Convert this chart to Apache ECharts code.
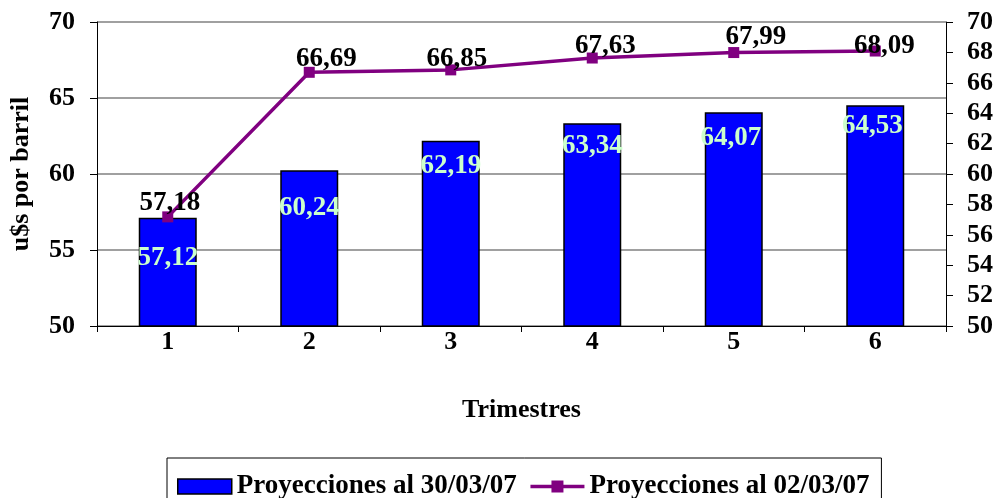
<!DOCTYPE html>
<html>
<head>
<meta charset="utf-8">
<script src="https://cdn.jsdelivr.net/npm/echarts@6/dist/echarts.min.js"></script>
<style>
  html, body { margin: 0; padding: 0; background: #ffffff; }
  #chart { width: 996px; height: 498px; }
</style>
</head>
<body>
<div id="chart"></div>
<script>
// Quarters and the two oil price projections (u$s per barrel)
const trimestres = ['1', '2', '3', '4', '5', '6'];
const proyecciones3003 = [57.12, 60.24, 62.19, 63.34, 64.07, 64.53];
const proyecciones0203 = [57.18, 66.69, 66.85, 67.63, 67.99, 68.09];

// Label placement tweaks: [dx, distance below bar top] for bars, [dx, dy] from marker for the line
const barLabelPlace = [[0, 40], [0, 38], [0, 25], [0, 23], [-3, 26], [-3, 21]];
const lineLabelPlace = [[2, -14], [17, -13], [6, -11], [13, -12], [22, -16], [9, -5]];

const FONT = '"Liberation Serif", "Times New Roman", serif';
const fmt = v => Number(v).toFixed(2).replace('.', ',');

const chart = echarts.init(document.getElementById('chart'), null, { renderer: 'canvas' });

const barData = proyecciones3003.map((v, i) => ({
  value: v,
  label: {
    position: ['50%', barLabelPlace[i][1]],
    offset: [barLabelPlace[i][0], 0],
    align: 'center',
    verticalAlign: 'middle'
  }
}));

const lineData = proyecciones0203.map((v, i) => ({
  value: v,
  label: {
    position: 'inside',
    offset: lineLabelPlace[i]
  }
}));

chart.setOption({
  animation: false,
  backgroundColor: '#ffffff',
  textStyle: { fontFamily: FONT, fontWeight: 'bold', color: '#000' },
  grid: { left: 97, right: 50, top: 22, bottom: 172, containLabel: false },
  legend: {
    left: 167,
    top: 458,
    padding: [15, 12, 15, 10],
    borderColor: '#000',
    borderWidth: 1,
    itemWidth: 54,
    itemHeight: 15,
    itemGap: 12,
    textStyle: { fontFamily: FONT, fontWeight: 'bold', fontSize: 27, color: '#000' },
    data: [
      { name: 'Proyecciones al 30/03/07', icon: 'rect', itemStyle: { color: '#0000ff', borderColor: '#000', borderWidth: 1.5 } },
      { name: 'Proyecciones al 02/03/07', lineStyle: { color: '#800080', width: 3.5 } }
    ]
  },
  xAxis: {
    type: 'category',
    data: trimestres,
    name: 'Trimestres',
    nameLocation: 'middle',
    nameGap: 71,
    nameTextStyle: { fontFamily: FONT, fontWeight: 'bold', fontSize: 26, color: '#000' },
    axisLine: { lineStyle: { color: '#000', width: 1 } },
    axisTick: { show: true, alignWithLabel: false, length: 6, lineStyle: { color: '#000' } },
    axisLabel: { margin: 3, fontFamily: FONT, fontWeight: 'bold', fontSize: 26, color: '#000' },
    splitLine: { show: false }
  },
  yAxis: [
    {
      type: 'value',
      min: 50,
      max: 70,
      interval: 5,
      name: 'u$s por barril',
      nameLocation: 'middle',
      nameGap: 63,
      nameTextStyle: { fontFamily: FONT, fontWeight: 'bold', fontSize: 26, color: '#000' },
      axisLine: { show: true, lineStyle: { color: '#000', width: 1 } },
      axisTick: { show: true, length: 7, lineStyle: { color: '#000' } },
      axisLabel: { margin: 22, fontFamily: FONT, fontWeight: 'bold', fontSize: 26, color: '#000' },
      splitLine: { show: true, lineStyle: { color: '#808080', width: 1.5 } }
    },
    {
      type: 'value',
      position: 'right',
      min: 50,
      max: 70,
      interval: 2,
      axisLine: { show: true, lineStyle: { color: '#000', width: 1 } },
      axisTick: { show: true, length: 7, lineStyle: { color: '#000' } },
      axisLabel: { margin: 21, fontFamily: FONT, fontWeight: 'bold', fontSize: 26, color: '#000' },
      splitLine: { show: false }
    }
  ],
  series: [
    {
      name: 'Proyecciones al 30/03/07',
      type: 'bar',
      yAxisIndex: 0,
      barWidth: 58,
      data: barData,
      itemStyle: { color: '#0000ff', borderColor: '#000', borderWidth: 1.5 },
      label: {
        show: true,
        formatter: p => fmt(p.value),
        fontFamily: FONT,
        fontWeight: 'bold',
        fontSize: 27,
        color: '#ccffcc'
      },
      z: 2
    },
    {
      name: 'Proyecciones al 02/03/07',
      type: 'line',
      yAxisIndex: 1,
      data: lineData,
      symbol: 'rect',
      symbolSize: 11,
      itemStyle: { color: '#800080' },
      lineStyle: { color: '#800080', width: 3.5 },
      label: {
        show: true,
        formatter: p => fmt(p.value),
        fontFamily: FONT,
        fontWeight: 'bold',
        fontSize: 27,
        color: '#000'
      },
      z: 3
    }
  ]
});
</script>
</body>
</html>
